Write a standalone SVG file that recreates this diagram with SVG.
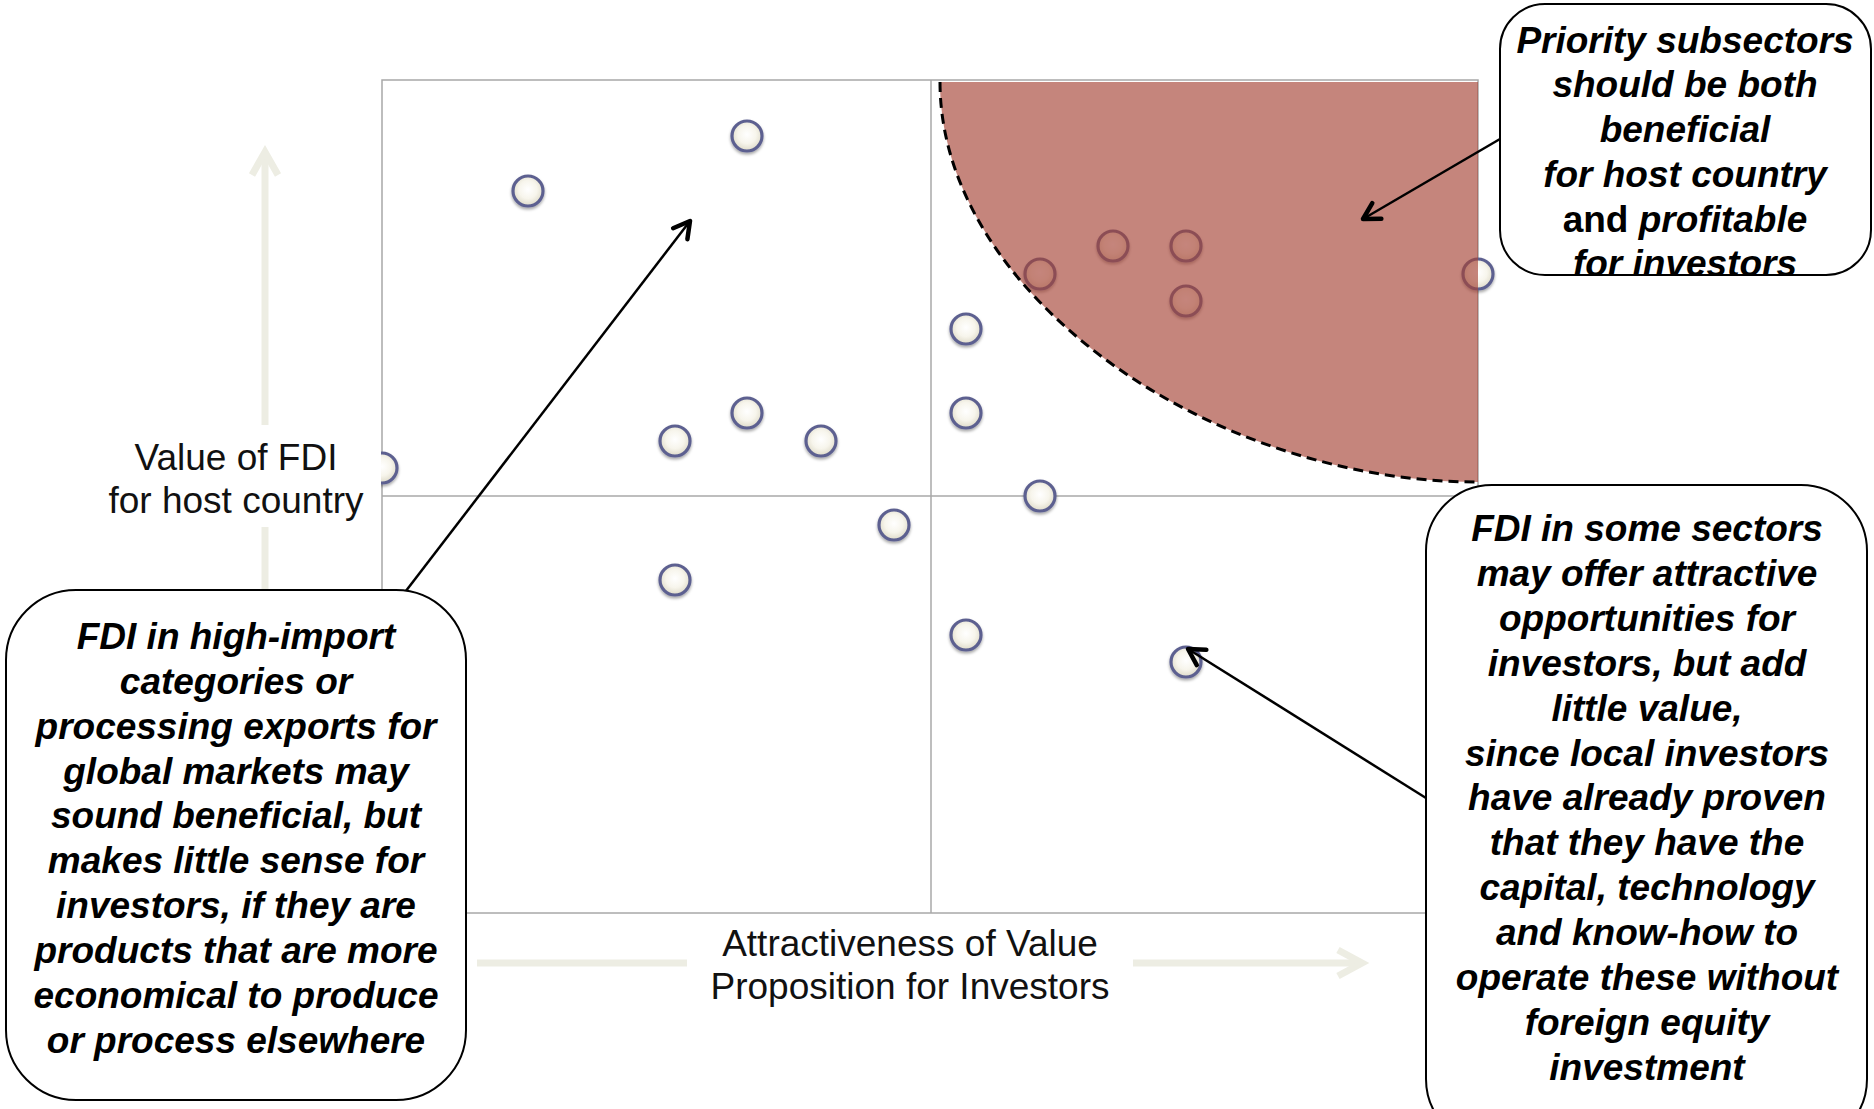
<svg xmlns="http://www.w3.org/2000/svg" width="1874" height="1109" viewBox="0 0 1874 1109">
<style>
.grid{fill:none;stroke:#a8a8a8;stroke-width:1.5}
.dot{fill:url(#dotg);stroke:#5d6190;stroke-width:3.2;filter:url(#sh)}
.axis{fill:none;stroke:#ededE3;stroke-width:7;stroke-linecap:butt}
.axlbl{font-family:"Liberation Sans",Arial,sans-serif;font-size:37px;fill:#111;text-anchor:middle}
.call{font-family:"Liberation Sans",Arial,sans-serif;font-size:37px;font-weight:bold;font-style:italic;fill:#000;text-anchor:middle}
.box{fill:#fff;stroke:#000;stroke-width:2}
.ptr{fill:none;stroke:#000;stroke-width:2.5;marker-end:url(#arr)}
</style>
<defs>
<radialGradient id="dotg" cx="0.5" cy="0.45" r="0.55">
<stop offset="0" stop-color="#ffffff"/>
<stop offset="0.55" stop-color="#f7f5ec"/>
<stop offset="1" stop-color="#dedac8"/>
</radialGradient>
<filter id="sh" x="-50%" y="-50%" width="200%" height="200%">
<feDropShadow dx="0" dy="2" stdDeviation="1.5" flood-color="#000" flood-opacity="0.35"/>
</filter>
<marker id="arr" viewBox="0 0 24 24" refX="20" refY="12" markerWidth="24" markerHeight="24" markerUnits="userSpaceOnUse" orient="auto">
<path d="M4,3 L20,12 L4,21" fill="none" stroke="#000" stroke-width="4.5" stroke-linecap="round" stroke-linejoin="round"/>
</marker>
</defs>
<rect width="1874" height="1109" fill="#fff"/>

<g id="plot-grid">
<rect class="grid" x="382" y="80" width="1096" height="833"/>
<line class="grid" x1="931" y1="80" x2="931" y2="913"/>
<line class="grid" x1="382" y1="496" x2="1478" y2="496"/>
</g>

<g id="axes">
<path class="axis" d="M265,590 V527 M265,425 V152"/>
<path class="axis" d="M252,175 L265,152 L278,175"/>
<path class="axis" d="M477,963 H687 M1133,963 H1362"/>
<path class="axis" d="M1338,950 L1362,963 L1338,976"/>
</g>

<g id="points">
<circle class="dot" cx="747" cy="136" r="15"/>
<circle class="dot" cx="528" cy="191" r="15"/>
<circle class="dot" cx="675" cy="441" r="15"/>
<circle class="dot" cx="747" cy="413" r="15"/>
<circle class="dot" cx="821" cy="441" r="15"/>
<circle class="dot" cx="382" cy="468" r="15"/>
<circle class="dot" cx="894" cy="525" r="15"/>
<circle class="dot" cx="675" cy="580" r="15"/>
<circle class="dot" cx="966" cy="329" r="15"/>
<circle class="dot" cx="966" cy="413" r="15"/>
<circle class="dot" cx="1040" cy="496" r="15"/>
<circle class="dot" cx="966" cy="635" r="15"/>
<circle class="dot" cx="1186" cy="662" r="15"/>
<circle class="dot" cx="1478" cy="274" r="15"/>
<circle class="dot" cx="1040" cy="274" r="15"/>
<circle class="dot" cx="1113" cy="246" r="15"/>
<circle class="dot" cx="1186" cy="246" r="15"/>
<circle class="dot" cx="1186" cy="301" r="15"/>
</g>

<g id="priority-zone">
<path d="M940,82 C940,293 1208,482 1478,482 L1478,82 Z" fill="#a64336" fill-opacity="0.65"/>
<path d="M940,82 C940,293 1208,482 1478,482" fill="none" stroke="#000" stroke-width="3" stroke-dasharray="10,6"/>
</g>

<g id="y-label">
<rect x="95" y="425" width="286" height="102" fill="#fff"/>
<text class="axlbl" x="236" y="470">Value of FDI</text>
<text class="axlbl" x="236" y="513">for host country</text>
</g>

<g id="x-label">
<text class="axlbl" x="910" y="956">Attractiveness of Value</text>
<text class="axlbl" x="910" y="999">Proposition for Investors</text>
</g>

<g id="connectors">
<line class="ptr" x1="389" y1="613" x2="690" y2="221"/>
<line class="ptr" x1="1500" y1="139" x2="1363" y2="219"/>
<line class="ptr" x1="1426" y1="798" x2="1188" y2="649"/>
</g>

<g id="callout-priority">
<rect class="box" x="1500" y="4" width="371" height="271" rx="45" ry="45"/>
<text class="call" x="1685" y="53">Priority subsectors</text>
<text class="call" x="1685" y="97">should be both</text>
<text class="call" x="1685" y="142">beneficial</text>
<text class="call" x="1685" y="187">for host country</text>
<text class="call" x="1685" y="232"><tspan font-style="normal">and </tspan><tspan>profitable</tspan></text>
<text class="call" x="1685" y="276">for investors</text>
</g>

<g id="callout-high-import">
<rect class="box" x="6" y="590" width="460" height="510" rx="70" ry="70"/>
<text class="call" x="236" y="649">FDI in high-import</text>
<text class="call" x="236" y="694">categories or</text>
<text class="call" x="236" y="739">processing exports for</text>
<text class="call" x="236" y="784">global markets may</text>
<text class="call" x="236" y="828">sound beneficial, but</text>
<text class="call" x="236" y="873">makes little sense for</text>
<text class="call" x="236" y="918">investors, if they are</text>
<text class="call" x="236" y="963">products that are more</text>
<text class="call" x="236" y="1008">economical to produce</text>
<text class="call" x="236" y="1053">or process elsewhere</text>
</g>

<g id="callout-some-sectors">
<rect class="box" x="1426" y="485" width="441" height="660" rx="66" ry="66"/>
<text class="call" x="1647" y="541">FDI in some sectors</text>
<text class="call" x="1647" y="586">may offer attractive</text>
<text class="call" x="1647" y="631">opportunities for</text>
<text class="call" x="1647" y="676">investors, but add</text>
<text class="call" x="1647" y="721">little value,</text>
<text class="call" x="1647" y="766">since local investors</text>
<text class="call" x="1647" y="810">have already proven</text>
<text class="call" x="1647" y="855">that they have the</text>
<text class="call" x="1647" y="900">capital, technology</text>
<text class="call" x="1647" y="945">and know-how to</text>
<text class="call" x="1647" y="990">operate these without</text>
<text class="call" x="1647" y="1035">foreign equity</text>
<text class="call" x="1647" y="1080">investment</text>
</g>
</svg>
